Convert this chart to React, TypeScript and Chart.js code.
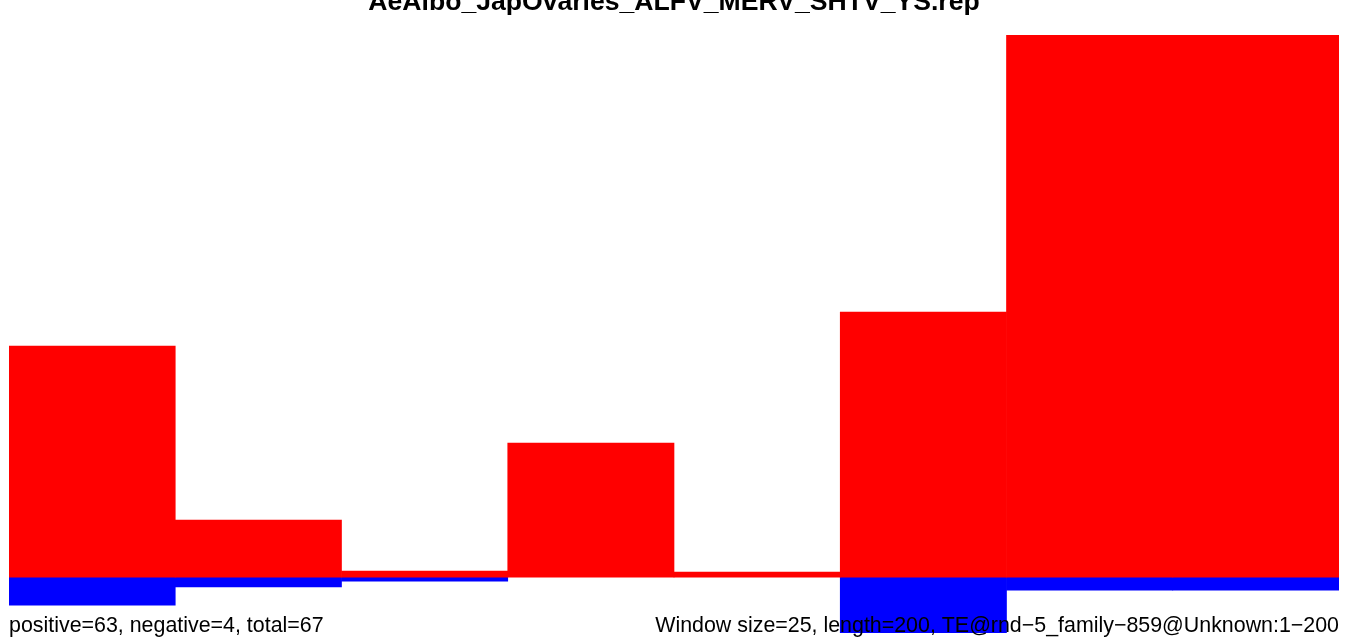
import React, { useEffect, useRef } from "react";
import { Chart, registerables } from "chart.js";

Chart.register(...registerables);

const windows = ["1-25", "26-50", "51-75", "76-100", "101-125", "126-150", "151-175", "176-200"];
const positiveValues = [8.18, 2.02, 0.21, 4.75, 0.18, 9.39, 19.2, 19.2];
const negativeValues = [-0.99, -0.35, -0.14, null, null, -1.98, -0.46, -0.46];
const titleText = "AeAlbo_JapOvaries_ALFV_MERV_SHTV_YS.rep";
const leftFooter = "positive=63, negative=4, total=67";
const rightFooter = "Window size=25, length=200, TE@rnd\u22125_family\u2212859@Unknown:1\u2212200";

const textPlugin = {
  id: "textPlugin",
  afterDraw(chart: any) {
    const ctx = chart.ctx;
    const area = chart.chartArea;
    ctx.save();
    ctx.fillStyle = "#000000";
    ctx.textBaseline = "alphabetic";
    ctx.font = "bold 26.6px 'Liberation Sans', Arial, Helvetica, sans-serif";
    ctx.textAlign = "center";
    ctx.fillText(titleText, (area.left + area.right) / 2, 10);
    ctx.font = "21.4px 'Liberation Sans', Arial, Helvetica, sans-serif";
    ctx.textAlign = "left";
    ctx.fillText(leftFooter, area.left, 632);
    ctx.textAlign = "right";
    ctx.fillText(rightFooter, area.right, 632);
    ctx.restore();
  },
};

export default function App() {
  const ref = useRef<HTMLCanvasElement | null>(null);
  useEffect(() => {
    const canvas = ref.current;
    if (!canvas) return;
    const chart = new Chart(canvas, {
      type: "bar",
      data: {
        labels: windows,
        datasets: [
          {
            label: "positive",
            data: positiveValues,
            backgroundColor: "#ff0000",
            borderWidth: 0,
            categoryPercentage: 1,
            barPercentage: 1,
          },
          {
            label: "negative",
            data: negativeValues,
            backgroundColor: "#0000ff",
            borderWidth: 0,
            categoryPercentage: 1,
            barPercentage: 1,
          },
        ],
      },
      options: {
        responsive: false,
        animation: false,
        devicePixelRatio: 1,
        layout: { padding: { left: 9, right: 16, top: 35, bottom: 8 } },
        plugins: {
          legend: { display: false },
          title: { display: false },
          tooltip: { enabled: false },
        },
        scales: {
          x: { display: false, stacked: true },
          y: { display: false, stacked: true, min: -1.98, max: 19.2 },
        },
      },
      plugins: [textPlugin],
    });
    return () => chart.destroy();
  }, []);
  return (
    <div style={{ position: "fixed", left: 0, top: 0, width: 1355, height: 641, background: "#ffffff" }}>
      <canvas ref={ref} width={1355} height={641} style={{ display: "block" }} />
    </div>
  );
}
